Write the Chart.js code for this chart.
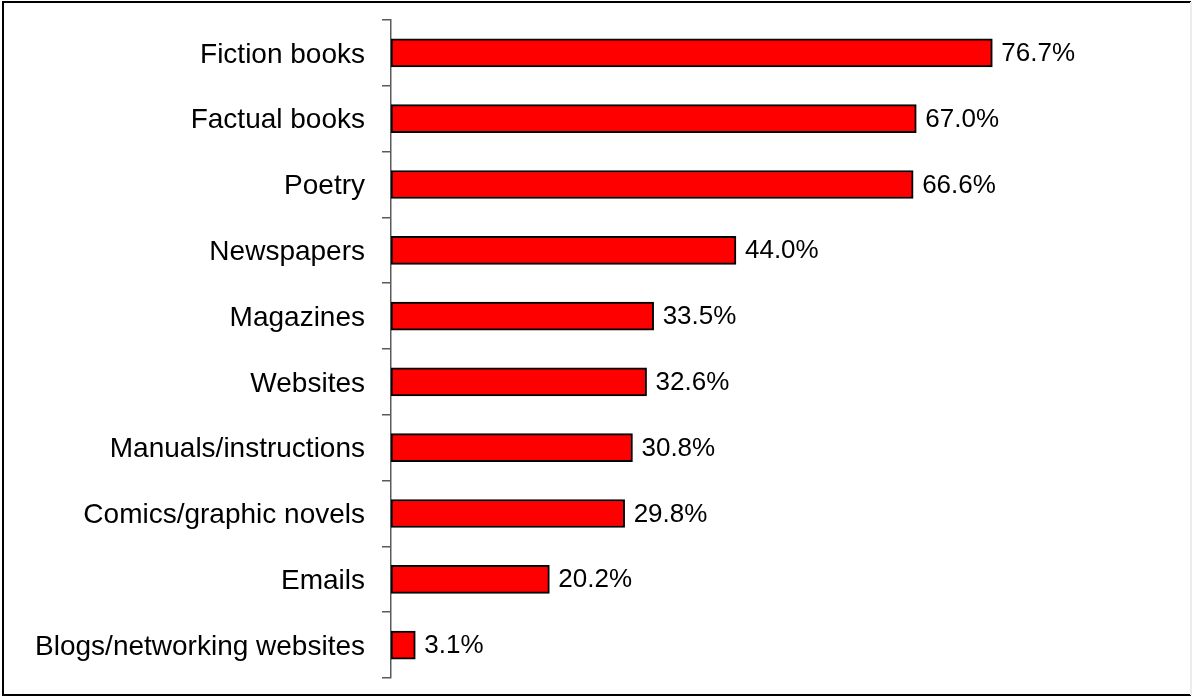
<!DOCTYPE html>
<html>
<head>
<meta charset="utf-8">
<script src="https://cdn.jsdelivr.net/npm/chart.js@4"></script>
<style>
  html, body { margin: 0; padding: 0; background: #fff; }
  #wrap { width: 1192px; height: 697px; }
</style>
</head>
<body>
<div id="wrap"><canvas id="chart" width="1192" height="697"></canvas></div>
<script>
const categories = [
  "Fiction books",
  "Factual books",
  "Poetry",
  "Newspapers",
  "Magazines",
  "Websites",
  "Manuals/instructions",
  "Comics/graphic novels",
  "Emails",
  "Blogs/networking websites"
];
const shares = [76.7, 67.0, 66.6, 44.0, 33.5, 32.6, 30.8, 29.8, 20.2, 3.1];

// outer frame round the whole picture
const framePlugin = {
  id: "frame",
  afterDraw(chart) {
    const ctx = chart.ctx;
    ctx.save();
    ctx.lineWidth = 2;
    ctx.strokeStyle = "#000";
    ctx.beginPath();
    ctx.moveTo(1191, 2);
    ctx.lineTo(3, 2);
    ctx.lineTo(3, 695);
    ctx.lineTo(1191, 695);
    ctx.stroke();
    ctx.strokeStyle = "#ececec";
    ctx.beginPath();
    ctx.moveTo(1191, 2);
    ctx.lineTo(1191, 695);
    ctx.stroke();
    ctx.restore();
  }
};

// percentage printed just past the end of each bar
const valueLabels = {
  id: "valueLabels",
  afterDatasetsDraw(chart) {
    const ctx = chart.ctx;
    const meta = chart.getDatasetMeta(0);
    ctx.save();
    ctx.font = "26px 'Liberation Sans', Arial, sans-serif";
    ctx.fillStyle = "#000";
    ctx.textAlign = "left";
    ctx.textBaseline = "middle";
    meta.data.forEach((bar, i) => {
      ctx.fillText(shares[i].toFixed(1) + "%", bar.x + 9, bar.y + 1);
    });
    ctx.restore();
  }
};

const ctx = document.getElementById("chart").getContext("2d");
new Chart(ctx, {
  type: "bar",
  data: {
    labels: categories,
    datasets: [
      {
        data: shares,
        backgroundColor: "#ff0000",
        borderColor: "#000",
        borderWidth: 2,
        borderSkipped: false,
        barThickness: 28
      }
    ]
  },
  options: {
    indexAxis: "y",
    responsive: false,
    animation: false,
    layout: { padding: { left: 0, right: 17, top: 20, bottom: 19 } },
    plugins: {
      legend: { display: false },
      tooltip: { enabled: false }
    },
    scales: {
      x: {
        display: false,
        min: 0,
        max: 100
      },
      y: {
        afterFit: (scale) => {
          scale.width = 391;
          scale.paddingTop = 0;
          scale.paddingBottom = 0;
        },
        border: { display: true, color: "#5a5a5a", width: 1.5 },
        grid: {
          offset: true,
          drawOnChartArea: false,
          drawTicks: true,
          tickLength: 9,
          color: "#5a5a5a",
          lineWidth: 1.5
        },
        ticks: {
          color: "#000",
          padding: 17,
          labelOffset: 2,
          font: { family: "'Liberation Sans', Arial, sans-serif", size: 28 }
        }
      }
    }
  },
  plugins: [framePlugin, valueLabels]
});
</script>
</body>
</html>
